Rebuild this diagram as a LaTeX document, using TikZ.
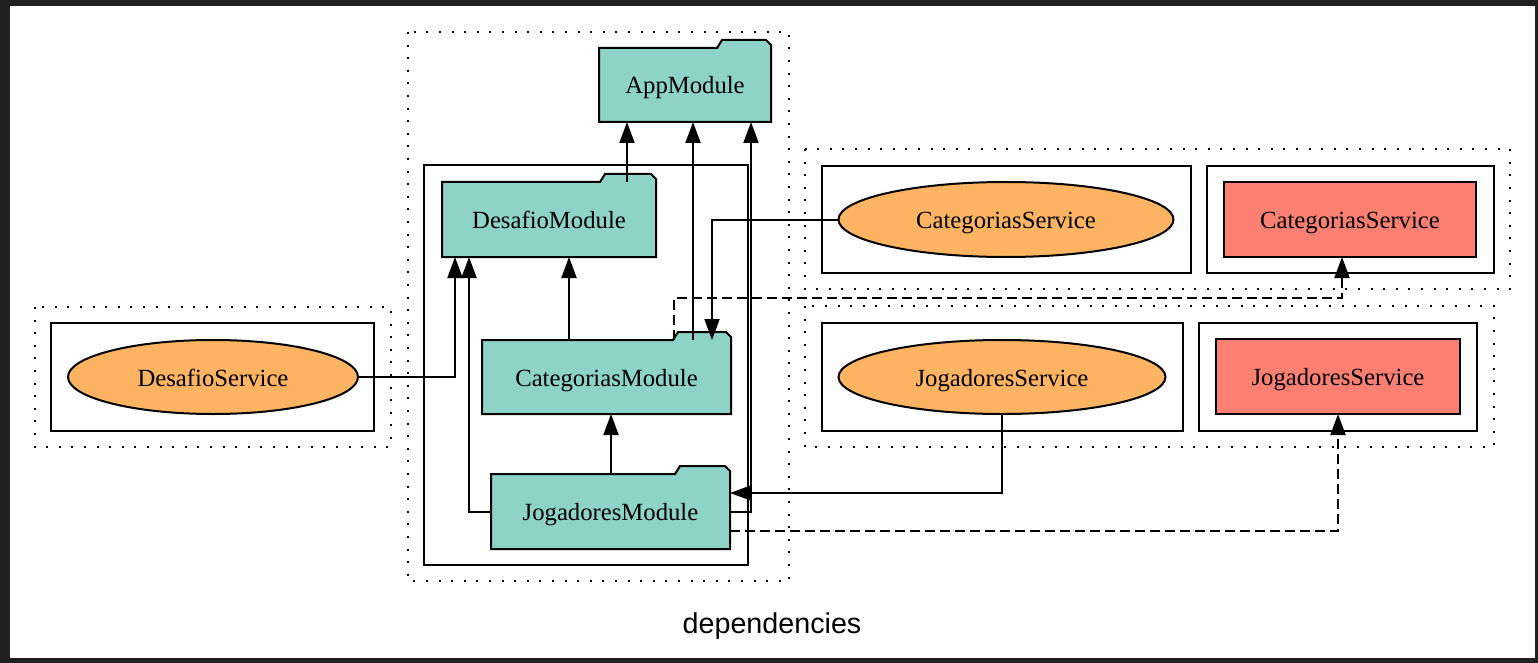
\documentclass[tikz,border=0pt]{standalone}
\usepackage{fontspec}
\setmainfont{Liberation Serif}
\setsansfont{Liberation Sans}
\usetikzlibrary{arrows.meta,backgrounds,shapes.geometric}
\definecolor{modc}{HTML}{8DD3C7}
\definecolor{svcc}{HTML}{FDB462}
\definecolor{provc}{HTML}{FB8072}
\definecolor{framec}{HTML}{202020}
\newcommand\folderout[2]{\draw[line width=2pt,fill=modc] (#1.south west) -- (#1.north west) -- ([xshift=-#2]#1.north east) -- ++(5,-8) -- ([xshift=-5pt,yshift=8pt]#1.north east) -- ([yshift=3pt]#1.north east) -- (#1.south east) -- cycle;}
\begin{document}
\begin{tikzpicture}[x=1pt,y=-1pt,
  lbl/.style={font=\fontsize{24.7}{29}\selectfont,inner sep=0pt,outer sep=0pt,text height=23pt,text depth=5pt},
  box/.style n args={2}{lbl,rectangle,minimum width=#1,minimum height=#2},
  svc/.style n args={2}{lbl,ellipse,draw,line width=2pt,fill=svcc,minimum width=#1,minimum height=#2},
  prov/.style n args={2}{box={#1}{#2},draw,line width=2pt,fill=provc},
  solid box/.style={draw,line width=2pt},
  dotbox/.style={draw,line width=2pt,dash pattern=on 2pt off 10.6pt},
  arr/.style={line width=2pt,-{Triangle[length=21pt,width=15pt]}},
  dep/.style={arr,dash pattern=on 10pt off 5pt}]
\begin{pgfonlayer}{background}
\fill[framec] (0,0) rectangle (1538,663);
\fill[white] (10,6) rectangle (1535,658);
\end{pgfonlayer}
\useasboundingbox (0,0) rectangle (1538,663);

% clusters
\draw[dotbox] (408,32) rectangle (789,581);
\draw[solid box] (424,165) rectangle (748,565);
\draw[dotbox] (35,307) rectangle (391,447);
\draw[solid box] (51,323) rectangle (374,431);
\draw[dotbox] (805,149) rectangle (1510,289);
\draw[solid box] (822,166) rectangle (1191,273);
\draw[solid box] (1207,166) rectangle (1494,273);
\draw[dotbox] (805,306) rectangle (1494,447);
\draw[solid box] (822,323) rectangle (1183,431);
\draw[solid box] (1199,323) rectangle (1477,431);

% nodes
\node[box={172pt}{74pt}] (app) at (685,85) {AppModule};
\node[box={214pt}{75pt}] (dm) at (549,219.5) {DesafioModule};
\node[box={249pt}{74pt}] (cm) at (606.5,377) {CategoriasModule};
\node[box={239pt}{75pt}] (jm) at (610.5,511.5) {JogadoresModule};
\node[svc={290pt}{74pt}] (ds) at (213,377) {DesafioService};
\node[svc={335pt}{75pt}] (cs) at (1006,219.5) {CategoriasService};
\node[svc={327pt}{74pt}] (js) at (1002,377) {JogadoresService};
\node[prov={252pt}{75pt}] (cr) at (1350,219.5) {CategoriasService};
\node[prov={244pt}{75pt}] (jr) at (1338,376.5) {JogadoresService};

\begin{pgfonlayer}{background}
\folderout{app}{54pt}
\folderout{dm}{56pt}
\folderout{cm}{58pt}
\folderout{jm}{55pt}
\end{pgfonlayer}

% edges
\draw[arr] ([xshift=185pt]dm.north west) -- ([xshift=28pt]app.south west);
\draw[arr] ([xshift=211pt]cm.north west) -- ([xshift=94pt]app.south west);
\draw[arr] (jm.east) -| ([xshift=152pt]app.south west);
\draw[arr] ([xshift=87pt]cm.north west) -- ([xshift=127pt]dm.south west);
\draw[arr] (ds.east) -| ([xshift=13pt]dm.south west);
\draw[arr] (jm.west) -| ([xshift=27pt]dm.south west);
\draw[arr] ([xshift=120pt]jm.north west) -- ([xshift=120pt]jm.north west |- cm.south);
\draw[arr] (cs.west) -| ([xshift=230pt]cm.north west);
\draw[arr] (js.south) |- ([yshift=18.5pt]jm.east);
\draw[dep] ([xshift=192pt]cm.north west) -- ++(0,-42) -| ([xshift=118pt]cr.south west);
\draw[dep] ([yshift=-19.5pt]jm.east) -| ([xshift=122pt]jr.south west);

\node[font=\sffamily\fontsize{28.7}{33}\selectfont,inner sep=0pt] (title) at (772,626) {dependencies};
\end{tikzpicture}
\end{document}
